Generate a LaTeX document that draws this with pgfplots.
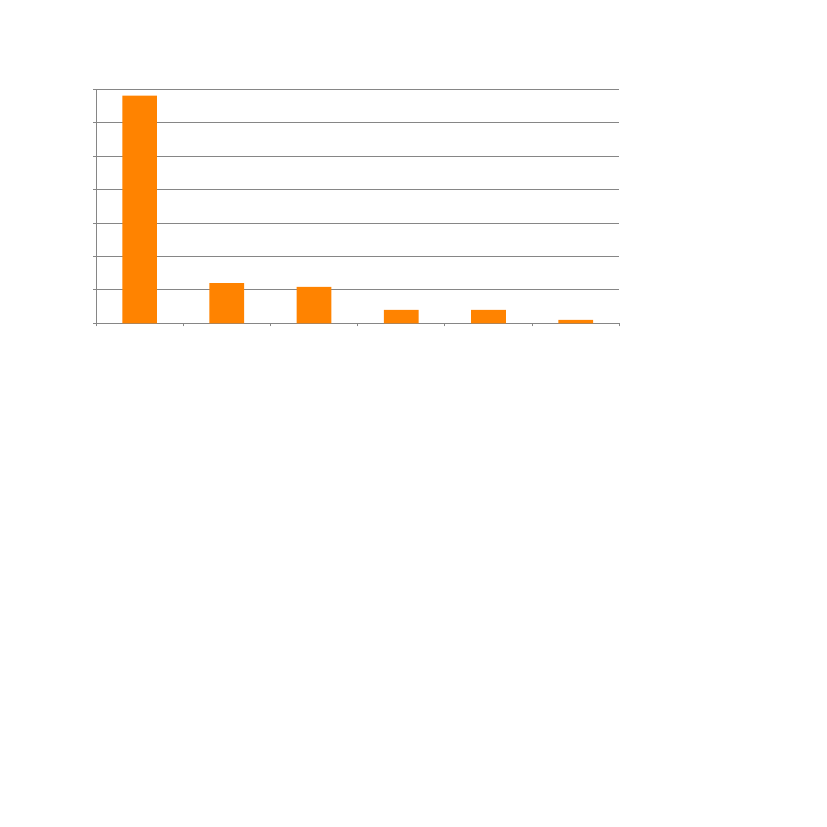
\documentclass[border=0pt]{standalone}
\usepackage{pgfplots}
\pgfplotsset{compat=1.18}
\definecolor{barorange}{HTML}{FF8300}
\definecolor{axisgray}{HTML}{868686}
\begin{document}
\begin{tikzpicture}[x=1bp,y=1bp]
\path[use as bounding box, fill=white] (0,0) rectangle (827,827);
\begin{axis}[
  at={(96bp,503.7bp)}, anchor=south west,
  scale only axis,
  width=523.3bp, height=234bp,
  xmin=0.5, xmax=6.5,
  ymin=0, ymax=7,
  axis x line*=bottom, axis y line*=left,
  axis line style={axisgray, line width=0.8pt, -},
  xtick={0.5,1.5,...,6.5}, xticklabels={},
  ytick={0,1,...,7}, yticklabels={},
  tick align=outside,
  major tick length=3bp,
  tick style={axisgray, line width=0.8pt},
  ymajorgrids,
  grid style={axisgray, line width=0.8pt},
  ybar, bar width=34.7bp,
  clip=false,
]
\addplot[fill=barorange, draw=none] coordinates {
  (1,6.81) (2,1.2) (3,1.09) (4,0.4) (5,0.4) (6,0.1)
};
\end{axis}
\end{tikzpicture}
\end{document}
